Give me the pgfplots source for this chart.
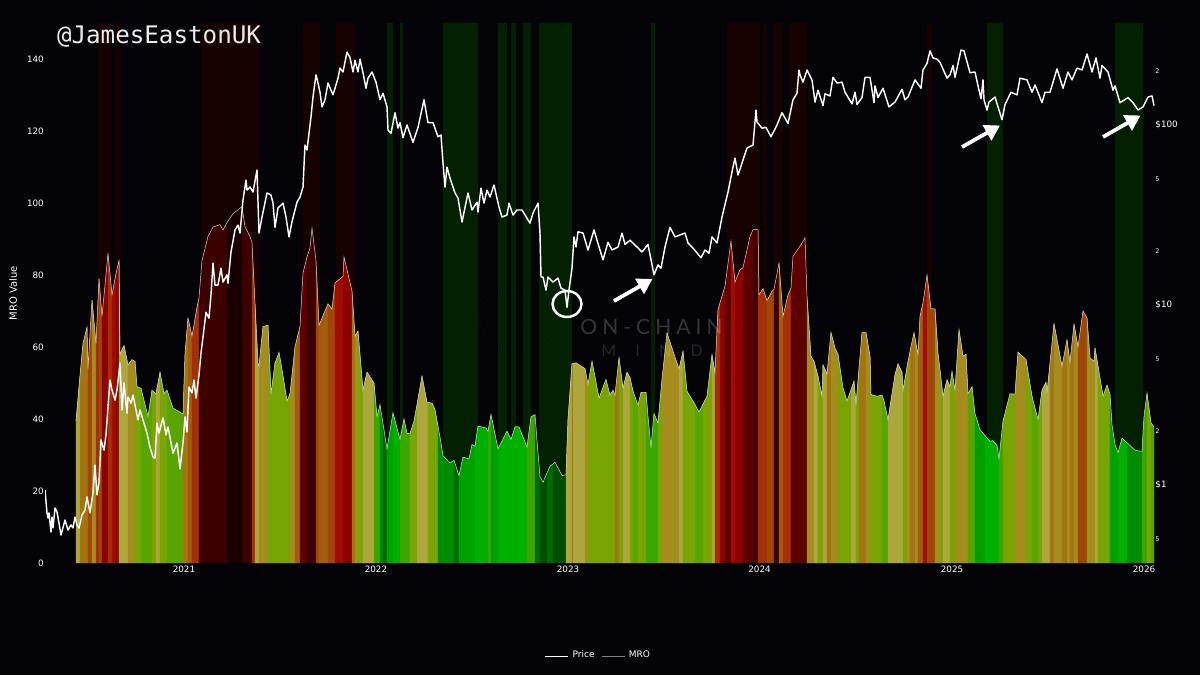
\documentclass[border=0pt]{standalone}
\usepackage{fontspec}
\usepackage{pgfplots}
\usepackage{pgfplotstable}
\pgfplotsset{compat=1.18}
\usetikzlibrary{arrows.meta}
\setmainfont{DejaVu Sans}
\newfontfamily\monof{DejaVu Sans Mono}
\newfontfamily\wmf[LetterSpace=24]{Lato}
\newfontfamily\wmg[LetterSpace=120]{Lato}
\definecolor{bgc}{HTML}{030308}
\definecolor{zR}{HTML}{170202}
\definecolor{zG}{HTML}{032003}
\definecolor{K}{HTML}{ADA63C}
\definecolor{Gg}{HTML}{A58C1E}
\definecolor{Oo}{HTML}{A27412}
\definecolor{Bb}{HTML}{A25C0E}
\definecolor{Dd}{HTML}{A04608}
\definecolor{Rr}{HTML}{A33008}
\definecolor{Ee}{HTML}{A00C00}
\definecolor{Ff}{HTML}{8C0200}
\definecolor{Mm}{HTML}{5C0000}
\definecolor{Nn}{HTML}{3C0000}
\definecolor{Zz}{HTML}{180000}
\definecolor{Vv}{HTML}{78A404}
\definecolor{Ll}{HTML}{58A400}
\definecolor{Cc}{HTML}{3CA600}
\definecolor{Hh}{HTML}{00B000}
\definecolor{Ii}{HTML}{00A000}
\definecolor{Jj}{HTML}{008C00}
\definecolor{Pp}{HTML}{006C00}
\definecolor{Qq}{HTML}{004E00}
% x unit: 192 units per calendar year (2021 = 184)
\pgfplotstableread[row sep=\\]{
x y\\
76 39.4\\ 80 52\\ 83 61\\ 87 65.5\\ 88 54\\ 92 73\\ 96 61\\ 99 79\\ 102 68.5\\ 108 86\\ 112 74.5\\ 116 80.4\\ 119 84\\ 120 58\\ 124 60.4\\ 128 55\\ 132 56.5\\ 135 56\\ 137 49\\ 141 48.5\\ 148 40.7\\ 152 48\\ 156 47\\ 160 53\\ 164 47\\ 167 48\\ 173 43\\ 183 41.4\\ 185 58\\ 188 68\\ 192 63\\ 197 71\\ 199 73.6\\ 202 84\\ 208 90.7\\ 213 93.3\\ 220 94\\ 223 92.5\\ 227 94.6\\ 233 97\\ 242 99\\ 245 93.5\\ 250 90.7\\ 252 89\\ 255 72\\ 258 55.5\\ 259 54.6\\ 263 65.7\\ 268 66\\ 271 47\\ 275 55.5\\ 279 58.5\\ 283 52\\ 287 45\\ 290 47\\ 295 60\\ 300 65.7\\ 303 80.5\\ 307 85\\ 310 87.5\\ 312 93\\ 316 84\\ 319 66\\ 328 72\\ 332 70.5\\ 335 77.8\\ 343 79.6\\ 344 85\\ 352 75.5\\ 355 63\\ 358 64.4\\ 363 48\\ 367 53\\ 374 50\\ 377 40.7\\ 380 44\\ 383 38.7\\ 387 31.7\\ 393 41.7\\
400 34.3\\ 404 40\\ 407 36\\ 410 36\\ 414 39.4\\ 417 44\\ 422 51.9\\ 427 44.6\\ 428 44.6\\ 432 44.4\\ 435 42.6\\ 438 38\\ 440 35\\ 443 29.8\\ 450 27.8\\ 454 28.5\\ 459 24.3\\ 463 29.4\\ 469 28.9\\ 472 32.9\\ 475 32.4\\ 478 38\\ 486 37.5\\ 488 36.6\\ 491 41.2\\ 498 31.7\\ 507 36.6\\ 511 34.3\\ 515 37.8\\ 519 37.8\\ 527 32.2\\ 531 40.6\\ 535 41.2\\ 538 30.6\\ 540 24\\ 543 22.4\\ 547 25\\ 550 26.9\\ 553 27.5\\ 555 28\\ 562 24.3\\ 566 24.5\\ 568 40\\ 572 55.3\\ 573 55.4\\ 576 55.6\\ 585 54\\ 588 49.5\\ 592 56\\ 599 45.8\\ 602 48\\ 606 51\\ 610 46.6\\ 613 48\\ 615 46.6\\ 619 57\\ 623 48.6\\ 627 53\\ 630 51.5\\ 633 47.7\\ 638 43.8\\ 641 47.4\\ 646 47.4\\ 648 40.7\\ 651 32\\ 654 41.5\\ 658 38.9\\ 662 51\\ 667 63.9\\ 673 58.8\\ 679 53.9\\ 683 58.8\\ 687 47.7\\ 695 44\\ 699 41.9\\ 703 44.1\\ 707 46.3\\ 712 57.9\\ 715 52.8\\ 718 70.4\\ 720 72.3\\ 725 76.9\\ 731 89.4\\ 735 78\\ 740 81.5\\ 743 82\\ 750 90.7\\ 753 92.6\\ 758 92.6\\ 759 74.5\\ 763 76.2\\ 767 72.9\\ 772 75.5\\ 774 76\\ 779 83.3\\ 783 68.5\\ 788 74.5\\ 791 76.4\\ 793 85.2\\
800 88\\ 805 90.3\\ 807 74\\ 811 57.4\\ 814 56\\ 818 51.9\\ 822 46.3\\ 823 55\\ 827 52.5\\ 831 64\\ 835 59.7\\ 838 57.9\\ 843 48.6\\ 847 45\\ 851 48.1\\ 854 50.5\\ 856 44\\ 859 54\\ 862 64\\ 866 64\\ 870 57.4\\ 871 46.8\\ 877 46.3\\ 882 46.6\\ 884 45\\ 888 39.8\\ 895 52.3\\ 898 55.3\\ 902 53\\ 903 48\\ 907 54.4\\ 908 56\\ 910 58.7\\ 914 64\\ 915 62.5\\ 918 57.9\\ 920 68.5\\ 923 72.2\\ 927 80\\ 931 70.6\\ 935 70.6\\ 938 58.3\\ 940 53.5\\ 943 46.3\\ 947 50.9\\ 950 49\\ 952 53.2\\ 955 48\\ 959 64.8\\ 963 57.4\\ 966 58\\ 968 47\\ 972 49\\ 975 41.4\\ 977 39.8\\ 980 37\\ 985 35.4\\ 990 33.8\\ 993 34\\ 997 32.6\\ 999 28.9\\ 1003 39.4\\ 1010 47\\ 1015 46.9\\ 1018 58.6\\ 1026 56.5\\ 1032 46.3\\ 1038 39.8\\ 1042 48\\ 1046 50.2\\ 1047 47.2\\ 1050 55.5\\ 1054 66.5\\ 1062 54.6\\ 1067 62\\ 1070 55.7\\ 1074 66.4\\ 1078 60\\ 1083 70\\ 1087 68\\ 1090 57\\ 1094 56\\ 1095 59.7\\ 1098 54.7\\ 1103 46.3\\ 1107 49.4\\ 1110 46.8\\ 1112 38.4\\ 1115 32.9\\ 1118 30.6\\ 1122 34.7\\ 1127 33.4\\ 1135 31.3\\ 1142 31\\ 1144 40.7\\ 1147 47.2\\ 1151 38.9\\ 1154 37.8\\
}\mro
\pgfplotstableread[row sep=\\]{
x y\\
45 .94\\ 47 .70\\ 48 .656\\ 49 .70\\ 51 .548\\ 52 .664\\ 53 .577\\ 55 .745\\ 57 .708\\ 59 .615\\ 61 .527\\ 65 .639\\ 68 .562\\ 71 .60\\ 73 .577\\ 75 .664\\ 77 .60\\ 79 .577\\ 82 .681\\ 85 .726\\ 87 .859\\ 90 .70\\ 93 .904\\ 95 1.29\\ 97 .88\\ 99 1.03\\ 101 1.78\\ 104 1.56\\ 106 1.90\\ 108 2.71\\ 110 3.83\\ 112 3.37\\ 115 2.96\\ 117 3.37\\ 120 4.75\\ 122 2.61\\ 124 3.69\\ 127 2.51\\ 128 3.08\\ 131 2.85\\ 133 3.16\\ 138 2.30\\ 140 2.61\\ 143 2.30\\ 147 1.94\\ 150 1.62\\ 153 1.43\\ 155 1.41\\ 157 2.21\\ 159 1.94\\ 163 2.36\\ 166 1.90\\ 168 2.10\\ 173 1.50\\ 177 1.71\\ 180 1.23\\ 183 1.71\\ 185 2.39\\ 187 1.97\\ 189 3.50\\ 192 3.25\\ 194 3.83\\ 196 3.04\\ 199 4.08\\ 201 5.41\\ 203 6.63\\ 206 9.12\\ 209 8.45\\ 211 11.4\\ 213 17.1\\ 215 12.9\\ 218 12.9\\ 221 16.0\\ 223 13.4\\ 227 14.7\\ 228 13.2\\ 231 19.7\\ 235 26.1\\ 238 27.8\\ 240 25.1\\ 243 38.3\\ 246 49.4\\ 247 43.5\\ 250 45.2\\ 253 42.4\\ 257 56.2\\ 259 25.1\\ 262 30.8\\ 267 41.9\\ 271 40.8\\ 273 36.8\\ 275 27\\ 278 34.6\\ 283 36.8\\ 286 30.8\\ 289 23.9\\ 292 29\\ 295 33.7\\ 297 37.3\\ 300 39.8\\ 303 45.2\\ 305 77.4\\ 307 72.6\\ 311 111\\ 313 143\\ 316 190\\ 318 171\\ 320 152\\ 322 126\\ 325 138\\ 328 171\\ 333 147\\ 335 160\\ 338 182\\ 340 207\\ 343 197\\ 347 254\\ 350 237\\ 353 197\\ 355 229\\ 358 197\\ 360 232\\ 363 195\\ 366 160\\ 368 182\\ 372 197\\ 376 173\\ 380 138\\ 383 150\\ 387 126\\ 388 93.8\\ 391 90\\ 395 117\\ 398 96\\
400 103\\ 403 85\\ 407 100\\ 413 80\\ 418 97\\ 424 138\\ 428 103\\ 433 103\\ 438 86\\ 441 88\\ 443 61.5\\ 445 45.2\\ 447 58.4\\ 450 50.7\\ 455 41.9\\ 458 39.3\\ 462 28.9\\ 468 41.9\\ 472 33.7\\ 477 37.3\\ 478 32.8\\ 481 44.6\\ 484 36.8\\ 487 43.5\\ 490 39.8\\ 494 46.4\\ 499 35\\ 502 30.8\\ 507 31.6\\ 509 36.8\\ 513 31.6\\ 517 33.7\\ 522 33.7\\ 530 28.5\\ 533 32.4\\ 538 36.8\\ 540 25.1\\ 541 14.3\\ 543 14.3\\ 546 12.1\\ 548 14.3\\ 553 13.4\\ 558 14.1\\ 561 12.4\\ 565 12.1\\ 567 9.7\\ 569 12.1\\ 572 16\\ 574 23.9\\ 576 21\\ 578 25.5\\ 583 25.1\\ 588 20.2\\ 594 26.1\\ 597 22.9\\ 603 17.8\\ 608 22.3\\ 612 20.2\\ 618 21\\ 622 25.1\\ 625 21.7\\ 630 22.9\\ 637 21\\ 642 19.7\\ 648 21.7\\ 654 14.7\\ 658 16.7\\ 661 16\\ 665 21\\ 670 27\\ 675 23.9\\ 685 25.1\\ 688 22.1\\ 693 20.7\\ 701 18.3\\ 705 20.2\\ 709 19.4\\ 712 23.9\\ 717 22.1\\ 722 30.8\\ 728 42.4\\ 733 58.4\\ 735 65.5\\ 738 52.7\\ 743 63.9\\ 747 74.5\\ 753 77.4\\ 756 121\\ 757 104\\ 762 96\\ 766 97\\ 771 86\\ 777 100\\ 782 117\\ 788 102\\ 793 138\\ 797 150\\ 799 202\\
800 190\\ 803 173\\ 807 202\\ 812 178\\ 815 134\\ 818 156\\ 823 128\\ 825 149\\ 830 145\\ 833 184\\ 837 171\\ 842 173\\ 845 152\\ 852 131\\ 855 152\\ 857 130\\ 862 142\\ 865 184\\ 870 184\\ 874 133\\ 875 165\\ 878 142\\ 883 160\\ 889 126\\ 895 134\\ 902 158\\ 905 138\\ 908 143\\ 915 178\\ 921 160\\ 923 202\\ 927 220\\ 930 258\\ 933 236\\ 937 232\\ 940 223\\ 947 182\\ 950 190\\ 953 214\\ 955 184\\ 961 261\\ 964 258\\ 970 195\\ 975 197\\ 978 165\\ 981 140\\ 983 178\\ 984 138\\ 987 121\\ 989 134\\ 995 143\\ 998 126\\ 1002 107\\ 1005 130\\ 1011 152\\ 1017 147\\ 1020 182\\ 1027 178\\ 1032 152\\ 1035 167\\ 1042 133\\ 1045 152\\ 1050 152\\ 1057 205\\ 1063 160\\ 1068 197\\ 1072 178\\ 1077 207\\ 1082 202\\ 1087 248\\ 1092 197\\ 1096 236\\ 1100 182\\ 1102 214\\ 1108 197\\ 1113 156\\ 1115 165\\ 1120 133\\ 1128 142\\ 1133 133\\ 1138 121\\ 1143 126\\ 1148 143\\ 1152 145\\ 1154 128\\
}\price
\newcommand{\zone}[3]{\addplot[forget plot,fill=#3,draw=none] coordinates {(#1,0)(#1,150)(#2,150)(#2,0)} \closedcycle;}
\newcommand{\band}[3]{\addplot[forget plot,fill=#3,draw=#3,line width=0.2pt,restrict x to domain=#1:#2] table {\mro} \closedcycle;}
\begin{document}
\begin{tikzpicture}
\fill[bgc,use as bounding box] (0,0) rectangle (600pt,337.5pt);
\begin{axis}[
  at={(22.5pt,56pt)},anchor=south west,scale only axis,width=555pt,height=270pt,
  xmin=45,xmax=1155,ymin=0,ymax=150,
  axis line style={draw=none},major tick length=0pt,
  xtick={184,376,568,759.5,952,1144},xticklabels={2021,2022,2023,2024,2025,2026},
  ytick={0,20,40,60,80,100,120,140},
  /pgf/number format/assume math mode=true,
  tick label style={text=white,font=\fontsize{4.4}{5}\selectfont,inner sep=0.4pt},
  xticklabel style={yshift=-1pt},
  ylabel={MRO Value},
  y label style={at={(axis description cs:-0.0288,0.5)},anchor=center,text=white,font=\fontsize{5}{6}\selectfont},
  legend style={at={(axis description cs:0.4995,-0.1722)},anchor=center,draw=none,fill=none,legend columns=2,text=white,font=\fontsize{4.5}{5}\selectfont,inner sep=0pt,/tikz/every even column/.append style={column sep=1.2pt}},
  legend image code/.code={\draw[#1] (0pt,0pt)--(11.5pt,0pt);},
]
\zone{98}{111}{zR}\zone{115}{121}{zR}\zone{201}{259}{zR}\zone{303}{320}{zR}\zone{336}{355}{zR}
\zone{387}{393}{zG}\zone{400}{403}{zG}\zone{443}{478}{zG}\zone{498}{507}{zG}\zone{511}{516}{zG}\zone{523}{531}{zG}\zone{539}{572}{zG}\zone{651}{655}{zG}
\zone{727}{760}{zR}\zone{763}{767}{zR}\zone{774}{783}{zR}\zone{790}{807}{zR}\zone{927}{932}{zR}
\zone{987}{1003}{zG}\zone{1115}{1143}{zG}
\band{76}{80}{K}\band{80}{88}{Oo}\band{88}{92}{Dd}\band{92}{96}{Gg}\band{96}{99}{Rr}\band{99}{102}{Dd}\band{102}{108}{Ff}\band{108}{112}{Rr}\band{112}{116}{Ee}\band{116}{119}{Ff}\band{119}{128}{K}\band{128}{135}{Gg}\band{135}{141}{Vv}\band{141}{152}{Ll}\band{152}{156}{Vv}\band{156}{160}{K}\band{160}{167}{Vv}\band{167}{183}{Ll}\band{183}{188}{Oo}\band{188}{192}{Bb}\band{192}{199}{Rr}\band{199}{227}{Nn}\band{227}{242}{Zz}\band{242}{252}{Nn}\band{252}{255}{Rr}\band{255}{259}{K}\band{259}{268}{Gg}\band{268}{283}{Vv}\band{283}{290}{Vv}\band{290}{295}{Gg}\band{295}{300}{Bb}\band{300}{307}{Mm}\band{307}{316}{Nn}\band{316}{319}{Dd}\band{319}{328}{Bb}\band{328}{335}{Dd}\band{335}{343}{Ee}\band{343}{352}{Ff}\band{352}{355}{Oo}\band{355}{358}{Gg}\band{358}{363}{Vv}\band{363}{374}{K}\band{374}{380}{Cc}\band{380}{383}{Jj}\band{383}{387}{Pp}\band{387}{393}{Ii}\band{393}{400}{Hh}
\band{400}{410}{Cc}\band{410}{417}{Vv}\band{417}{428}{K}\band{428}{438}{Vv}\band{438}{454}{Jj}\band{454}{459}{Pp}\band{459}{475}{Ii}\band{475}{488}{Hh}\band{488}{491}{Cc}\band{491}{498}{Ii}\band{498}{527}{Hh}\band{527}{535}{Cc}\band{535}{540}{Pp}\band{540}{547}{Qq}\band{547}{553}{Pp}\band{553}{566}{Qq}\band{566}{572}{K}\band{572}{573}{Oo}\band{573}{585}{K}\band{585}{588}{Gg}\band{588}{615}{Vv}\band{615}{619}{Oo}\band{619}{623}{Vv}\band{623}{630}{K}\band{630}{633}{Vv}\band{633}{638}{Ll}\band{638}{646}{Vv}\band{646}{658}{Cc}\band{658}{662}{Vv}\band{662}{679}{Gg}\band{679}{683}{K}\band{683}{695}{Vv}\band{695}{703}{Ll}\band{703}{712}{Vv}\band{712}{715}{K}\band{715}{720}{Rr}\band{720}{725}{Ff}\band{725}{731}{Mm}\band{731}{735}{Ee}\band{735}{743}{Ff}\band{743}{753}{Mm}\band{753}{758}{Nn}\band{758}{767}{Rr}\band{767}{774}{Dd}\band{774}{779}{Nn}\band{779}{783}{Bb}\band{783}{791}{Rr}\band{791}{800}{Mm}
\band{800}{807}{Mm}\band{807}{814}{Gg}\band{814}{818}{K}\band{818}{823}{Vv}\band{823}{827}{K}\band{827}{831}{Oo}\band{831}{838}{Gg}\band{838}{851}{Vv}\band{851}{856}{K}\band{856}{859}{Vv}\band{859}{866}{Oo}\band{866}{870}{Gg}\band{870}{882}{Vv}\band{882}{888}{Ll}\band{888}{903}{K}\band{903}{907}{Vv}\band{907}{910}{Gg}\band{910}{915}{Oo}\band{915}{918}{Gg}\band{918}{923}{Bb}\band{923}{927}{Ee}\band{927}{935}{Dd}\band{935}{940}{Gg}\band{940}{943}{Vv}\band{943}{950}{K}\band{950}{955}{Vv}\band{955}{968}{Gg}\band{968}{975}{Ll}\band{975}{985}{Ii}\band{985}{999}{Hh}\band{999}{1003}{Cc}\band{1003}{1015}{Vv}\band{1015}{1026}{Gg}\band{1026}{1032}{Vv}\band{1032}{1038}{Ll}\band{1038}{1042}{Vv}\band{1042}{1050}{K}\band{1050}{1054}{Oo}\band{1054}{1062}{Gg}\band{1062}{1067}{Oo}\band{1067}{1070}{Gg}\band{1070}{1074}{Oo}\band{1074}{1078}{Gg}\band{1078}{1087}{Dd}\band{1087}{1095}{Gg}\band{1095}{1098}{K}\band{1098}{1110}{Vv}\band{1110}{1118}{Ii}\band{1118}{1127}{Hh}\band{1127}{1142}{Jj}\band{1142}{1147}{Cc}\band{1147}{1151}{Vv}\band{1151}{1154}{Ll}
\addplot[forget plot,color=white!65!gray,line width=0.25pt] table {\mro};
\addlegendimage{white,line width=0.45pt}\addlegendentry{Price}
\addlegendimage{gray,line width=0.45pt}\addlegendentry{MRO}
\end{axis}
\begin{axis}[
  at={(22.5pt,56pt)},anchor=south west,scale only axis,width=555pt,height=270pt,
  xmin=45,xmax=1155,ymode=log,ymin=0.3687,ymax=368.7,
  axis line style={draw=none},major tick length=0pt,minor tick length=0pt,
  xtick=\empty,ytick pos=right,
  ytick={0.5,1,2,5,10,20,50,100,200},
  yticklabels={{\fontsize{3.2}{4}\selectfont 5},\$1,{\fontsize{3.2}{4}\selectfont 2},{\fontsize{3.2}{4}\selectfont 5},\$10,{\fontsize{3.2}{4}\selectfont 2},{\fontsize{3.2}{4}\selectfont 5},\$100,{\fontsize{3.2}{4}\selectfont 2}},
  yticklabel style={text=white,font=\fontsize{4.4}{5}\selectfont,inner sep=0.4pt,anchor=west,xshift=-0.4pt},
]
\addplot[white,line width=0.72pt,line join=round] table {\price};
\end{axis}
\begin{scope}[yshift=337.5pt,x=0.5pt,y=-0.5pt]
\node[text=white!92!black,font=\monof\fontsize{12.1}{13}\selectfont] at (159,37) {@JamesEastonUK};
\node[text=white,opacity=.2,font=\wmf\fontsize{10.5}{11}\selectfont] at (651.5,327) {ON-CHAIN};
\node[text=white,opacity=.14,font=\wmg\fontsize{8}{9}\selectfont] at (652,351) {MIND};
\draw[white,opacity=.07,dotted,line width=.4pt] (518,288) .. controls (490,288) and (478,305) .. (480,322) .. controls (482,342) and (500,352) .. (518,348) -- cycle;
\draw[white,opacity=.07,dotted,line width=.4pt] (524,288) .. controls (548,288) and (562,305) .. (560,322) .. controls (558,342) and (540,352) .. (524,348) -- cycle;
\draw[white,line width=1.25pt] (567,304) ellipse [x radius=14.5,y radius=13];
\draw[white,line width=1.9pt,-{Triangle[width=8.5pt,length=7.5pt]}] (614,301) -- (652.5,279);
\draw[white,line width=1.9pt,-{Triangle[width=8.5pt,length=7.5pt]}] (962,147) -- (1000,125.5);
\draw[white,line width=1.9pt,-{Triangle[width=8.5pt,length=7.5pt]}] (1103,137) -- (1140.5,115.5);
\end{scope}
\end{tikzpicture}
\end{document}
